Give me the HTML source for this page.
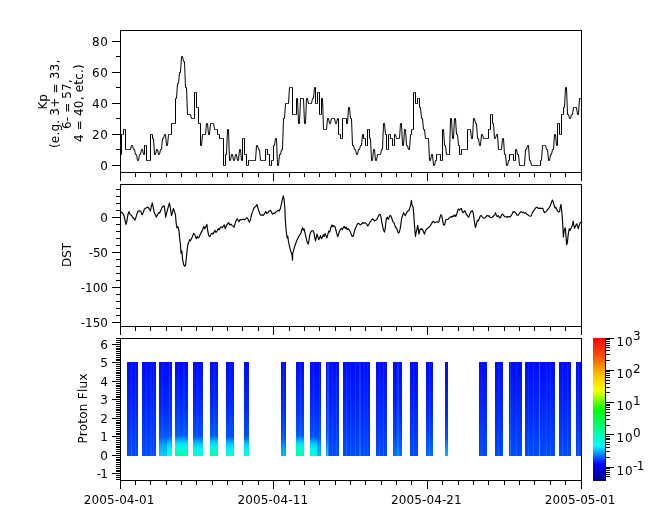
<!DOCTYPE html>
<html><head><meta charset="utf-8"><title>Kp DST Proton Flux</title>
<style>html,body{margin:0;padding:0;background:#fff}svg{display:block}text{font-family:"DejaVu Sans","Liberation Sans",sans-serif;font-size:12px;fill:#000}</style></head><body>
<svg width="665" height="523" viewBox="0 0 665 523">
<rect width="665" height="523" fill="#fff"/>
<defs>
<linearGradient id="gb" x1="0" y1="0" x2="0" y2="1"><stop offset="0.00" stop-color="#000aff"/><stop offset="0.40" stop-color="#0020ff"/><stop offset="0.75" stop-color="#0038ff"/><stop offset="1.00" stop-color="#004cff"/></linearGradient>
<linearGradient id="gb2" x1="0" y1="0" x2="0" y2="1"><stop offset="0.00" stop-color="#0008ff"/><stop offset="0.40" stop-color="#0020ff"/><stop offset="0.75" stop-color="#0040ff"/><stop offset="1.00" stop-color="#0070ff"/></linearGradient>
<linearGradient id="glb" x1="0" y1="0" x2="0" y2="1"><stop offset="0.00" stop-color="#0008ff"/><stop offset="0.50" stop-color="#0028ff"/><stop offset="0.80" stop-color="#0050ff"/><stop offset="0.90" stop-color="#0090ff"/><stop offset="1.00" stop-color="#00b8ff"/></linearGradient>
<linearGradient id="gl2" x1="0" y1="0" x2="0" y2="1"><stop offset="0.00" stop-color="#0008ff"/><stop offset="0.50" stop-color="#0028ff"/><stop offset="0.80" stop-color="#0058ff"/><stop offset="0.88" stop-color="#00a0ff"/><stop offset="1.00" stop-color="#00d0f8"/></linearGradient>
<linearGradient id="gcy" x1="0" y1="0" x2="0" y2="1"><stop offset="0.00" stop-color="#0008ff"/><stop offset="0.50" stop-color="#002cff"/><stop offset="0.79" stop-color="#0050ff"/><stop offset="0.83" stop-color="#0088ff"/><stop offset="0.87" stop-color="#00c8ff"/><stop offset="0.92" stop-color="#00f0fa"/><stop offset="1.00" stop-color="#00ffd7"/></linearGradient>
<linearGradient id="gcg" x1="0" y1="0" x2="0" y2="1"><stop offset="0.00" stop-color="#0008ff"/><stop offset="0.50" stop-color="#0030ff"/><stop offset="0.78" stop-color="#0058ff"/><stop offset="0.82" stop-color="#0098ff"/><stop offset="0.86" stop-color="#00d8fa"/><stop offset="0.91" stop-color="#00fae1"/><stop offset="1.00" stop-color="#00ffa5"/></linearGradient>
<linearGradient id="cb" x1="0" y1="1" x2="0" y2="0"><stop offset="0.0000" stop-color="rgb(0,0,137)"/><stop offset="0.1176" stop-color="rgb(0,0,255)"/><stop offset="0.2471" stop-color="rgb(0,255,255)"/><stop offset="0.4941" stop-color="rgb(0,255,0)"/><stop offset="0.6353" stop-color="rgb(255,255,0)"/><stop offset="0.7529" stop-color="rgb(255,185,0)"/><stop offset="0.8667" stop-color="rgb(255,84,0)"/><stop offset="1.0000" stop-color="rgb(255,0,0)"/></linearGradient>
<linearGradient id="st" x1="0" y1="0" x2="0" y2="1"><stop offset="0" stop-color="#30a0ff"/><stop offset="0.8" stop-color="#40c0ff"/><stop offset="1" stop-color="#60ffff"/></linearGradient>
</defs>
<g shape-rendering="crispEdges">
<rect x="127" y="362" width="11" height="94" fill="url(#gb)"/>
<rect x="142" y="362" width="14" height="94" fill="url(#gb)"/>
<rect x="159" y="362" width="8" height="94" fill="url(#gl2)"/>
<rect x="167" y="362" width="5" height="94" fill="url(#gcy)"/>
<rect x="175" y="362" width="13" height="94" fill="url(#gcg)"/>
<rect x="193" y="362" width="10" height="94" fill="url(#gcy)"/>
<rect x="210" y="362" width="8" height="94" fill="url(#gcg)"/>
<rect x="226" y="362" width="8" height="94" fill="url(#gcy)"/>
<rect x="244" y="362" width="5" height="94" fill="url(#gcy)"/>
<rect x="281" y="362" width="5" height="94" fill="url(#glb)"/>
<rect x="296" y="362" width="8" height="94" fill="url(#gcg)"/>
<rect x="310" y="362" width="7" height="94" fill="url(#gcy)"/>
<rect x="317" y="362" width="4" height="94" fill="url(#glb)"/>
<rect x="326" y="362" width="2" height="94" fill="url(#glb)"/>
<rect x="328" y="362" width="11" height="94" fill="url(#gb)"/>
<rect x="343" y="362" width="27" height="94" fill="url(#gb)"/>
<rect x="376" y="362" width="11" height="94" fill="url(#gb)"/>
<rect x="393" y="362" width="9" height="94" fill="url(#gb2)"/>
<rect x="410" y="362" width="8" height="94" fill="url(#gb)"/>
<rect x="426" y="362" width="7" height="94" fill="url(#gb2)"/>
<rect x="445" y="362" width="3" height="94" fill="url(#glb)"/>
<rect x="479" y="362" width="8" height="94" fill="url(#gb)"/>
<rect x="495" y="362" width="8" height="94" fill="url(#gb)"/>
<rect x="509" y="362" width="13" height="94" fill="url(#gb)"/>
<rect x="525" y="362" width="30" height="94" fill="url(#gb)"/>
<rect x="559" y="362" width="12" height="94" fill="url(#gb)"/>
<rect x="576" y="362" width="5" height="94" fill="url(#gb)"/>
<rect x="131" y="362" width="1" height="94" fill="url(#st)" opacity="0.18"/>
<rect x="135" y="362" width="1" height="94" fill="url(#st)" opacity="0.12"/>
<rect x="146" y="362" width="1" height="94" fill="url(#st)" opacity="0.15"/>
<rect x="150" y="362" width="2" height="94" fill="url(#st)" opacity="0.10"/>
<rect x="153" y="362" width="1" height="94" fill="url(#st)" opacity="0.18"/>
<rect x="162" y="362" width="1" height="94" fill="url(#st)" opacity="0.15"/>
<rect x="169" y="362" width="1" height="94" fill="url(#st)" opacity="0.25"/>
<rect x="178" y="362" width="1" height="94" fill="url(#st)" opacity="0.15"/>
<rect x="183" y="362" width="2" height="94" fill="url(#st)" opacity="0.12"/>
<rect x="197" y="362" width="1" height="94" fill="url(#st)" opacity="0.15"/>
<rect x="214" y="362" width="1" height="94" fill="url(#st)" opacity="0.18"/>
<rect x="230" y="362" width="1" height="94" fill="url(#st)" opacity="0.12"/>
<rect x="283" y="362" width="1" height="94" fill="url(#st)" opacity="0.20"/>
<rect x="300" y="362" width="1" height="94" fill="url(#st)" opacity="0.20"/>
<rect x="313" y="362" width="1" height="94" fill="url(#st)" opacity="0.15"/>
<rect x="319" y="362" width="1" height="94" fill="url(#st)" opacity="0.15"/>
<rect x="327" y="362" width="2" height="94" fill="url(#st)" opacity="0.30"/>
<rect x="332" y="362" width="1" height="94" fill="url(#st)" opacity="0.12"/>
<rect x="336" y="362" width="1" height="94" fill="url(#st)" opacity="0.15"/>
<rect x="346" y="362" width="1" height="94" fill="url(#st)" opacity="0.20"/>
<rect x="350" y="362" width="1" height="94" fill="url(#st)" opacity="0.12"/>
<rect x="355" y="362" width="1" height="94" fill="url(#st)" opacity="0.20"/>
<rect x="359" y="362" width="2" height="94" fill="url(#st)" opacity="0.25"/>
<rect x="364" y="362" width="1" height="94" fill="url(#st)" opacity="0.15"/>
<rect x="367" y="362" width="1" height="94" fill="url(#st)" opacity="0.12"/>
<rect x="379" y="362" width="1" height="94" fill="url(#st)" opacity="0.15"/>
<rect x="383" y="362" width="1" height="94" fill="url(#st)" opacity="0.20"/>
<rect x="397" y="362" width="2" height="94" fill="url(#st)" opacity="0.25"/>
<rect x="413" y="362" width="1" height="94" fill="url(#st)" opacity="0.12"/>
<rect x="429" y="362" width="1" height="94" fill="url(#st)" opacity="0.15"/>
<rect x="481" y="362" width="1" height="94" fill="url(#st)" opacity="0.12"/>
<rect x="498" y="362" width="1" height="94" fill="url(#st)" opacity="0.12"/>
<rect x="510" y="362" width="1" height="94" fill="url(#st)" opacity="0.30"/>
<rect x="516" y="362" width="1" height="94" fill="url(#st)" opacity="0.15"/>
<rect x="528" y="362" width="1" height="94" fill="url(#st)" opacity="0.12"/>
<rect x="533" y="362" width="1" height="94" fill="url(#st)" opacity="0.15"/>
<rect x="539" y="362" width="1" height="94" fill="url(#st)" opacity="0.60"/>
<rect x="546" y="362" width="1" height="94" fill="url(#st)" opacity="0.15"/>
<rect x="550" y="362" width="1" height="94" fill="url(#st)" opacity="0.12"/>
<rect x="562" y="362" width="1" height="94" fill="url(#st)" opacity="0.15"/>
<rect x="567" y="362" width="1" height="94" fill="url(#st)" opacity="0.15"/>
<rect x="578" y="362" width="1" height="94" fill="url(#st)" opacity="0.12"/>
</g>
<rect x="593" y="338" width="13" height="143" fill="url(#cb)" shape-rendering="crispEdges"/>
<g fill="#000" shape-rendering="crispEdges">
<rect x="120" y="30" width="462" height="1"/>
<rect x="120" y="172" width="462" height="1"/>
<rect x="120" y="30" width="1" height="143"/>
<rect x="581" y="30" width="1" height="143"/>
<rect x="120" y="172" width="1" height="9"/>
<rect x="135" y="172" width="1" height="5"/>
<rect x="150" y="172" width="1" height="5"/>
<rect x="166" y="172" width="1" height="5"/>
<rect x="181" y="172" width="1" height="5"/>
<rect x="196" y="172" width="1" height="5"/>
<rect x="212" y="172" width="1" height="5"/>
<rect x="227" y="172" width="1" height="5"/>
<rect x="242" y="172" width="1" height="5"/>
<rect x="258" y="172" width="1" height="5"/>
<rect x="273" y="172" width="1" height="9"/>
<rect x="289" y="172" width="1" height="5"/>
<rect x="304" y="172" width="1" height="5"/>
<rect x="319" y="172" width="1" height="5"/>
<rect x="335" y="172" width="1" height="5"/>
<rect x="350" y="172" width="1" height="5"/>
<rect x="365" y="172" width="1" height="5"/>
<rect x="381" y="172" width="1" height="5"/>
<rect x="396" y="172" width="1" height="5"/>
<rect x="411" y="172" width="1" height="5"/>
<rect x="427" y="172" width="1" height="9"/>
<rect x="442" y="172" width="1" height="5"/>
<rect x="458" y="172" width="1" height="5"/>
<rect x="473" y="172" width="1" height="5"/>
<rect x="488" y="172" width="1" height="5"/>
<rect x="504" y="172" width="1" height="5"/>
<rect x="519" y="172" width="1" height="5"/>
<rect x="534" y="172" width="1" height="5"/>
<rect x="550" y="172" width="1" height="5"/>
<rect x="565" y="172" width="1" height="5"/>
<rect x="581" y="172" width="1" height="9"/>
<rect x="120" y="184" width="462" height="1"/>
<rect x="120" y="326" width="462" height="1"/>
<rect x="120" y="184" width="1" height="143"/>
<rect x="581" y="184" width="1" height="143"/>
<rect x="120" y="326" width="1" height="9"/>
<rect x="135" y="326" width="1" height="5"/>
<rect x="150" y="326" width="1" height="5"/>
<rect x="166" y="326" width="1" height="5"/>
<rect x="181" y="326" width="1" height="5"/>
<rect x="196" y="326" width="1" height="5"/>
<rect x="212" y="326" width="1" height="5"/>
<rect x="227" y="326" width="1" height="5"/>
<rect x="242" y="326" width="1" height="5"/>
<rect x="258" y="326" width="1" height="5"/>
<rect x="273" y="326" width="1" height="9"/>
<rect x="289" y="326" width="1" height="5"/>
<rect x="304" y="326" width="1" height="5"/>
<rect x="319" y="326" width="1" height="5"/>
<rect x="335" y="326" width="1" height="5"/>
<rect x="350" y="326" width="1" height="5"/>
<rect x="365" y="326" width="1" height="5"/>
<rect x="381" y="326" width="1" height="5"/>
<rect x="396" y="326" width="1" height="5"/>
<rect x="411" y="326" width="1" height="5"/>
<rect x="427" y="326" width="1" height="9"/>
<rect x="442" y="326" width="1" height="5"/>
<rect x="458" y="326" width="1" height="5"/>
<rect x="473" y="326" width="1" height="5"/>
<rect x="488" y="326" width="1" height="5"/>
<rect x="504" y="326" width="1" height="5"/>
<rect x="519" y="326" width="1" height="5"/>
<rect x="534" y="326" width="1" height="5"/>
<rect x="550" y="326" width="1" height="5"/>
<rect x="565" y="326" width="1" height="5"/>
<rect x="581" y="326" width="1" height="9"/>
<rect x="120" y="338" width="462" height="1"/>
<rect x="120" y="480" width="462" height="1"/>
<rect x="120" y="338" width="1" height="143"/>
<rect x="581" y="338" width="1" height="143"/>
<rect x="120" y="480" width="1" height="9"/>
<rect x="135" y="480" width="1" height="5"/>
<rect x="150" y="480" width="1" height="5"/>
<rect x="166" y="480" width="1" height="5"/>
<rect x="181" y="480" width="1" height="5"/>
<rect x="196" y="480" width="1" height="5"/>
<rect x="212" y="480" width="1" height="5"/>
<rect x="227" y="480" width="1" height="5"/>
<rect x="242" y="480" width="1" height="5"/>
<rect x="258" y="480" width="1" height="5"/>
<rect x="273" y="480" width="1" height="9"/>
<rect x="289" y="480" width="1" height="5"/>
<rect x="304" y="480" width="1" height="5"/>
<rect x="319" y="480" width="1" height="5"/>
<rect x="335" y="480" width="1" height="5"/>
<rect x="350" y="480" width="1" height="5"/>
<rect x="365" y="480" width="1" height="5"/>
<rect x="381" y="480" width="1" height="5"/>
<rect x="396" y="480" width="1" height="5"/>
<rect x="411" y="480" width="1" height="5"/>
<rect x="427" y="480" width="1" height="9"/>
<rect x="442" y="480" width="1" height="5"/>
<rect x="458" y="480" width="1" height="5"/>
<rect x="473" y="480" width="1" height="5"/>
<rect x="488" y="480" width="1" height="5"/>
<rect x="504" y="480" width="1" height="5"/>
<rect x="519" y="480" width="1" height="5"/>
<rect x="534" y="480" width="1" height="5"/>
<rect x="550" y="480" width="1" height="5"/>
<rect x="565" y="480" width="1" height="5"/>
<rect x="581" y="480" width="1" height="9"/>
<rect x="112" y="165" width="8" height="1"/>
<rect x="116" y="149" width="4" height="1"/>
<rect x="112" y="134" width="8" height="1"/>
<rect x="116" y="118" width="4" height="1"/>
<rect x="112" y="103" width="8" height="1"/>
<rect x="116" y="87" width="4" height="1"/>
<rect x="112" y="72" width="8" height="1"/>
<rect x="116" y="56" width="4" height="1"/>
<rect x="112" y="41" width="8" height="1"/>
<rect x="112" y="322" width="8" height="1"/>
<rect x="116" y="315" width="4" height="1"/>
<rect x="116" y="308" width="4" height="1"/>
<rect x="116" y="301" width="4" height="1"/>
<rect x="116" y="294" width="4" height="1"/>
<rect x="112" y="287" width="8" height="1"/>
<rect x="116" y="280" width="4" height="1"/>
<rect x="116" y="273" width="4" height="1"/>
<rect x="116" y="266" width="4" height="1"/>
<rect x="116" y="259" width="4" height="1"/>
<rect x="112" y="252" width="8" height="1"/>
<rect x="116" y="245" width="4" height="1"/>
<rect x="116" y="238" width="4" height="1"/>
<rect x="116" y="231" width="4" height="1"/>
<rect x="116" y="224" width="4" height="1"/>
<rect x="112" y="217" width="8" height="1"/>
<rect x="116" y="210" width="4" height="1"/>
<rect x="116" y="203" width="4" height="1"/>
<rect x="116" y="196" width="4" height="1"/>
<rect x="116" y="189" width="4" height="1"/>
<rect x="116" y="479" width="4" height="1"/>
<rect x="116" y="477" width="4" height="1"/>
<rect x="116" y="475" width="4" height="1"/>
<rect x="112" y="473" width="8" height="1"/>
<rect x="116" y="471" width="4" height="1"/>
<rect x="116" y="470" width="4" height="1"/>
<rect x="116" y="468" width="4" height="1"/>
<rect x="116" y="466" width="4" height="1"/>
<rect x="116" y="464" width="4" height="1"/>
<rect x="116" y="462" width="4" height="1"/>
<rect x="116" y="460" width="4" height="1"/>
<rect x="116" y="459" width="4" height="1"/>
<rect x="116" y="457" width="4" height="1"/>
<rect x="112" y="455" width="8" height="1"/>
<rect x="116" y="453" width="4" height="1"/>
<rect x="116" y="451" width="4" height="1"/>
<rect x="116" y="449" width="4" height="1"/>
<rect x="116" y="447" width="4" height="1"/>
<rect x="116" y="446" width="4" height="1"/>
<rect x="116" y="444" width="4" height="1"/>
<rect x="116" y="442" width="4" height="1"/>
<rect x="116" y="440" width="4" height="1"/>
<rect x="116" y="438" width="4" height="1"/>
<rect x="112" y="436" width="8" height="1"/>
<rect x="116" y="434" width="4" height="1"/>
<rect x="116" y="433" width="4" height="1"/>
<rect x="116" y="431" width="4" height="1"/>
<rect x="116" y="429" width="4" height="1"/>
<rect x="116" y="427" width="4" height="1"/>
<rect x="116" y="425" width="4" height="1"/>
<rect x="116" y="423" width="4" height="1"/>
<rect x="116" y="422" width="4" height="1"/>
<rect x="116" y="420" width="4" height="1"/>
<rect x="112" y="418" width="8" height="1"/>
<rect x="116" y="416" width="4" height="1"/>
<rect x="116" y="414" width="4" height="1"/>
<rect x="116" y="412" width="4" height="1"/>
<rect x="116" y="410" width="4" height="1"/>
<rect x="116" y="409" width="4" height="1"/>
<rect x="116" y="407" width="4" height="1"/>
<rect x="116" y="405" width="4" height="1"/>
<rect x="116" y="403" width="4" height="1"/>
<rect x="116" y="401" width="4" height="1"/>
<rect x="112" y="399" width="8" height="1"/>
<rect x="116" y="397" width="4" height="1"/>
<rect x="116" y="396" width="4" height="1"/>
<rect x="116" y="394" width="4" height="1"/>
<rect x="116" y="392" width="4" height="1"/>
<rect x="116" y="390" width="4" height="1"/>
<rect x="116" y="388" width="4" height="1"/>
<rect x="116" y="386" width="4" height="1"/>
<rect x="116" y="385" width="4" height="1"/>
<rect x="116" y="383" width="4" height="1"/>
<rect x="112" y="381" width="8" height="1"/>
<rect x="116" y="379" width="4" height="1"/>
<rect x="116" y="377" width="4" height="1"/>
<rect x="116" y="375" width="4" height="1"/>
<rect x="116" y="373" width="4" height="1"/>
<rect x="116" y="372" width="4" height="1"/>
<rect x="116" y="370" width="4" height="1"/>
<rect x="116" y="368" width="4" height="1"/>
<rect x="116" y="366" width="4" height="1"/>
<rect x="116" y="364" width="4" height="1"/>
<rect x="112" y="362" width="8" height="1"/>
<rect x="116" y="360" width="4" height="1"/>
<rect x="116" y="359" width="4" height="1"/>
<rect x="116" y="357" width="4" height="1"/>
<rect x="116" y="355" width="4" height="1"/>
<rect x="116" y="353" width="4" height="1"/>
<rect x="116" y="351" width="4" height="1"/>
<rect x="116" y="349" width="4" height="1"/>
<rect x="116" y="348" width="4" height="1"/>
<rect x="116" y="346" width="4" height="1"/>
<rect x="112" y="344" width="8" height="1"/>
<rect x="116" y="342" width="4" height="1"/>
<rect x="116" y="340" width="4" height="1"/>
<rect x="116" y="338" width="4" height="1"/>
<rect x="605" y="338" width="1" height="143"/>
<rect x="606" y="476" width="4" height="1"/>
<rect x="606" y="474" width="4" height="1"/>
<rect x="606" y="472" width="4" height="1"/>
<rect x="606" y="470" width="4" height="1"/>
<rect x="606" y="468" width="4" height="1"/>
<rect x="606" y="467" width="8" height="1"/>
<rect x="606" y="457" width="4" height="1"/>
<rect x="606" y="451" width="4" height="1"/>
<rect x="606" y="447" width="4" height="1"/>
<rect x="606" y="444" width="4" height="1"/>
<rect x="606" y="442" width="4" height="1"/>
<rect x="606" y="439" width="4" height="1"/>
<rect x="606" y="438" width="4" height="1"/>
<rect x="606" y="436" width="4" height="1"/>
<rect x="606" y="434" width="8" height="1"/>
<rect x="606" y="425" width="4" height="1"/>
<rect x="606" y="419" width="4" height="1"/>
<rect x="606" y="415" width="4" height="1"/>
<rect x="606" y="412" width="4" height="1"/>
<rect x="606" y="409" width="4" height="1"/>
<rect x="606" y="407" width="4" height="1"/>
<rect x="606" y="405" width="4" height="1"/>
<rect x="606" y="404" width="4" height="1"/>
<rect x="606" y="402" width="8" height="1"/>
<rect x="606" y="392" width="4" height="1"/>
<rect x="606" y="387" width="4" height="1"/>
<rect x="606" y="383" width="4" height="1"/>
<rect x="606" y="380" width="4" height="1"/>
<rect x="606" y="377" width="4" height="1"/>
<rect x="606" y="375" width="4" height="1"/>
<rect x="606" y="373" width="4" height="1"/>
<rect x="606" y="371" width="4" height="1"/>
<rect x="606" y="370" width="8" height="1"/>
<rect x="606" y="360" width="4" height="1"/>
<rect x="606" y="354" width="4" height="1"/>
<rect x="606" y="350" width="4" height="1"/>
<rect x="606" y="347" width="4" height="1"/>
<rect x="606" y="345" width="4" height="1"/>
<rect x="606" y="343" width="4" height="1"/>
<rect x="606" y="341" width="4" height="1"/>
<rect x="606" y="339" width="4" height="1"/>
<rect x="606" y="338" width="8" height="1"/>
</g>
<path d="M120.5 154.5 L121.5 154.5 L121.5 134.5 L122.5 134.5 L123.5 134.5 L123.5 129.5 L124.5 129.5 L125.5 129.5 L125.5 149.5 L126.5 149.5 L127.5 149.5 L128.5 149.5 L129.5 149.5 L130.5 149.5 L131.5 145.5 L132.5 145.5 L133.5 149.5 L134.5 149.5 L135.5 154.5 L136.5 154.5 L137.5 160.5 L138.5 160.5 L139.5 154.5 L140.5 154.5 L141.5 149.5 L142.5 149.5 L143.5 154.5 L144.5 154.5 L144.5 145.5 L145.5 145.5 L146.5 145.5 L146.5 160.5 L147.5 160.5 L148.5 160.5 L149.5 160.5 L150.5 160.5 L150.5 134.5 L151.5 134.5 L152.5 134.5 L152.5 138.5 L153.5 138.5 L154.5 154.5 L155.5 154.5 L156.5 149.5 L157.5 149.5 L158.5 154.5 L159.5 154.5 L160.5 149.5 L161.5 149.5 L162.5 138.5 L163.5 138.5 L164.5 134.5 L165.5 134.5 L166.5 145.5 L167.5 145.5 L168.5 134.5 L169.5 134.5 L170.5 134.5 L171.5 134.5 L171.5 123.5 L172.5 123.5 L173.5 123.5 L174.5 123.5 L175.5 123.5 L175.5 98.5 L176.5 98.5 L177.5 83.5 L178.5 83.5 L179.5 72.5 L180.5 72.5 L181.5 56.5 L182.5 56.5 L183.5 61.5 L184.5 61.5 L185.5 87.5 L186.5 87.5 L187.5 114.5 L188.5 114.5 L189.5 114.5 L190.5 114.5 L191.5 118.5 L192.5 118.5 L193.5 118.5 L194.5 118.5 L194.5 92.5 L195.5 92.5 L196.5 92.5 L196.5 107.5 L197.5 107.5 L198.5 107.5 L198.5 123.5 L199.5 123.5 L200.5 123.5 L200.5 145.5 L201.5 145.5 L202.5 134.5 L203.5 134.5 L204.5 134.5 L205.5 134.5 L206.5 123.5 L207.5 123.5 L208.5 134.5 L209.5 134.5 L210.5 123.5 L211.5 123.5 L212.5 123.5 L213.5 123.5 L214.5 129.5 L215.5 129.5 L216.5 129.5 L217.5 129.5 L217.5 134.5 L218.5 134.5 L219.5 134.5 L219.5 138.5 L220.5 138.5 L221.5 138.5 L222.5 138.5 L223.5 138.5 L223.5 165.5 L224.5 165.5 L225.5 165.5 L225.5 154.5 L226.5 154.5 L227.5 129.5 L228.5 129.5 L229.5 160.5 L230.5 160.5 L231.5 154.5 L232.5 154.5 L233.5 160.5 L234.5 160.5 L235.5 154.5 L236.5 154.5 L237.5 160.5 L238.5 160.5 L239.5 149.5 L240.5 149.5 L241.5 160.5 L242.5 160.5 L242.5 138.5 L243.5 138.5 L244.5 138.5 L244.5 154.5 L245.5 154.5 L246.5 154.5 L246.5 165.5 L247.5 165.5 L248.5 165.5 L248.5 160.5 L249.5 160.5 L250.5 160.5 L251.5 160.5 L252.5 160.5 L253.5 160.5 L254.5 160.5 L255.5 160.5 L256.5 145.5 L257.5 145.5 L258.5 149.5 L259.5 149.5 L260.5 160.5 L261.5 160.5 L262.5 160.5 L263.5 160.5 L264.5 160.5 L265.5 160.5 L265.5 149.5 L266.5 149.5 L267.5 149.5 L267.5 154.5 L268.5 154.5 L269.5 154.5 L269.5 165.5 L270.5 165.5 L271.5 165.5 L271.5 160.5 L272.5 160.5 L273.5 160.5 L273.5 145.5 L274.5 145.5 L275.5 138.5 L276.5 138.5 L277.5 165.5 L278.5 165.5 L279.5 154.5 L280.5 154.5 L281.5 149.5 L282.5 149.5 L283.5 118.5 L284.5 118.5 L285.5 103.5 L286.5 103.5 L287.5 103.5 L288.5 103.5 L289.5 87.5 L290.5 87.5 L291.5 87.5 L292.5 87.5 L292.5 114.5 L293.5 114.5 L294.5 114.5 L295.5 114.5 L296.5 114.5 L296.5 98.5 L297.5 98.5 L298.5 123.5 L299.5 123.5 L300.5 98.5 L301.5 98.5 L302.5 98.5 L303.5 98.5 L304.5 123.5 L305.5 123.5 L306.5 98.5 L307.5 98.5 L308.5 103.5 L309.5 103.5 L310.5 103.5 L311.5 103.5 L312.5 98.5 L313.5 98.5 L314.5 87.5 L315.5 87.5 L315.5 103.5 L316.5 103.5 L317.5 103.5 L317.5 92.5 L318.5 92.5 L319.5 92.5 L319.5 114.5 L320.5 114.5 L321.5 114.5 L321.5 98.5 L322.5 98.5 L323.5 129.5 L324.5 129.5 L325.5 129.5 L326.5 129.5 L327.5 118.5 L328.5 118.5 L329.5 123.5 L330.5 123.5 L331.5 118.5 L332.5 118.5 L333.5 118.5 L334.5 118.5 L335.5 123.5 L336.5 123.5 L337.5 118.5 L338.5 118.5 L338.5 134.5 L339.5 134.5 L340.5 134.5 L340.5 138.5 L341.5 138.5 L342.5 138.5 L342.5 118.5 L343.5 118.5 L344.5 118.5 L345.5 118.5 L346.5 118.5 L346.5 123.5 L347.5 123.5 L348.5 107.5 L349.5 107.5 L350.5 118.5 L351.5 118.5 L352.5 145.5 L353.5 145.5 L354.5 149.5 L355.5 149.5 L356.5 154.5 L357.5 154.5 L358.5 149.5 L359.5 149.5 L360.5 145.5 L361.5 145.5 L362.5 134.5 L363.5 134.5 L363.5 138.5 L364.5 138.5 L365.5 138.5 L365.5 145.5 L366.5 145.5 L367.5 145.5 L367.5 129.5 L368.5 129.5 L369.5 129.5 L369.5 138.5 L370.5 138.5 L371.5 160.5 L372.5 160.5 L373.5 149.5 L374.5 149.5 L375.5 160.5 L376.5 160.5 L377.5 154.5 L378.5 154.5 L379.5 154.5 L380.5 154.5 L381.5 149.5 L382.5 149.5 L383.5 123.5 L384.5 123.5 L385.5 134.5 L386.5 134.5 L386.5 149.5 L387.5 149.5 L388.5 149.5 L388.5 134.5 L389.5 134.5 L390.5 134.5 L390.5 138.5 L391.5 138.5 L392.5 138.5 L392.5 145.5 L393.5 145.5 L394.5 145.5 L394.5 134.5 L395.5 134.5 L396.5 138.5 L397.5 138.5 L398.5 138.5 L399.5 138.5 L400.5 123.5 L401.5 123.5 L402.5 145.5 L403.5 145.5 L404.5 129.5 L405.5 129.5 L406.5 145.5 L407.5 145.5 L408.5 149.5 L409.5 149.5 L410.5 134.5 L411.5 134.5 L411.5 129.5 L412.5 129.5 L413.5 129.5 L413.5 92.5 L414.5 92.5 L415.5 92.5 L415.5 103.5 L416.5 103.5 L417.5 103.5 L417.5 98.5 L418.5 98.5 L419.5 98.5 L419.5 107.5 L420.5 107.5 L421.5 118.5 L422.5 118.5 L423.5 129.5 L424.5 129.5 L425.5 138.5 L426.5 138.5 L427.5 138.5 L428.5 138.5 L429.5 160.5 L430.5 160.5 L431.5 154.5 L432.5 154.5 L433.5 165.5 L434.5 165.5 L435.5 160.5 L436.5 160.5 L436.5 154.5 L437.5 154.5 L438.5 154.5 L439.5 154.5 L440.5 154.5 L440.5 160.5 L441.5 160.5 L442.5 160.5 L442.5 129.5 L443.5 129.5 L444.5 145.5 L445.5 145.5 L446.5 154.5 L447.5 154.5 L448.5 154.5 L449.5 154.5 L450.5 118.5 L451.5 118.5 L452.5 138.5 L453.5 138.5 L454.5 118.5 L455.5 118.5 L456.5 134.5 L457.5 134.5 L458.5 145.5 L459.5 145.5 L459.5 154.5 L460.5 154.5 L461.5 154.5 L461.5 149.5 L462.5 149.5 L463.5 149.5 L464.5 149.5 L465.5 149.5 L466.5 149.5 L467.5 149.5 L467.5 129.5 L468.5 129.5 L469.5 129.5 L470.5 129.5 L471.5 138.5 L472.5 138.5 L473.5 118.5 L474.5 118.5 L475.5 123.5 L476.5 123.5 L477.5 138.5 L478.5 138.5 L479.5 145.5 L480.5 145.5 L481.5 134.5 L482.5 134.5 L483.5 138.5 L484.5 138.5 L485.5 138.5 L486.5 138.5 L487.5 138.5 L488.5 138.5 L488.5 129.5 L489.5 129.5 L490.5 129.5 L490.5 114.5 L491.5 114.5 L492.5 114.5 L492.5 123.5 L493.5 123.5 L494.5 138.5 L495.5 138.5 L496.5 134.5 L497.5 134.5 L498.5 149.5 L499.5 149.5 L500.5 149.5 L501.5 149.5 L502.5 138.5 L503.5 138.5 L504.5 154.5 L505.5 154.5 L506.5 165.5 L507.5 165.5 L508.5 160.5 L509.5 160.5 L509.5 154.5 L510.5 154.5 L511.5 154.5 L512.5 154.5 L513.5 154.5 L513.5 160.5 L514.5 160.5 L515.5 160.5 L515.5 149.5 L516.5 149.5 L517.5 154.5 L518.5 154.5 L519.5 165.5 L520.5 165.5 L521.5 165.5 L522.5 165.5 L523.5 165.5 L524.5 165.5 L525.5 149.5 L526.5 149.5 L527.5 145.5 L528.5 145.5 L529.5 160.5 L530.5 160.5 L531.5 165.5 L532.5 165.5 L533.5 165.5 L534.5 165.5 L535.5 165.5 L536.5 165.5 L537.5 165.5 L538.5 165.5 L539.5 165.5 L540.5 165.5 L540.5 160.5 L541.5 160.5 L542.5 145.5 L543.5 145.5 L544.5 145.5 L545.5 145.5 L546.5 149.5 L547.5 149.5 L548.5 160.5 L549.5 160.5 L550.5 154.5 L551.5 154.5 L552.5 149.5 L553.5 149.5 L554.5 134.5 L555.5 134.5 L556.5 145.5 L557.5 145.5 L557.5 123.5 L558.5 123.5 L559.5 123.5 L559.5 134.5 L560.5 134.5 L561.5 134.5 L561.5 114.5 L562.5 114.5 L563.5 114.5 L563.5 107.5 L564.5 107.5 L565.5 87.5 L566.5 87.5 L567.5 114.5 L568.5 114.5 L569.5 118.5 L570.5 118.5 L571.5 114.5 L572.5 114.5 L573.5 107.5 L574.5 107.5 L575.5 107.5 L576.5 107.5 L577.5 114.5 L578.5 114.5 L579.5 98.5 L580.5 98.5 L581.5 98.5" fill="none" stroke="#000" stroke-width="1" stroke-linejoin="round"/>
<path d="M120.8 211.6 L122.3 212.7 L123.8 214.9 L124.9 219.5 L126.0 224.4 L126.9 221.1 L127.9 214.9 L129.0 211.6 L130.2 214.6 L131.5 215.3 L132.5 217.2 L133.8 218.3 L134.8 220.3 L136.0 217.2 L137.1 213.4 L138.2 211.1 L139.4 210.7 L140.9 211.6 L142.0 214.9 L143.2 212.7 L144.3 209.1 L145.5 208.5 L146.8 207.3 L148.1 207.3 L149.4 209.1 L150.4 211.1 L151.3 206.5 L152.4 203.0 L153.5 208.8 L154.4 213.4 L155.5 214.6 L156.2 217.2 L157.5 214.9 L158.5 212.7 L159.6 213.1 L160.8 210.4 L162.1 207.3 L163.1 206.5 L164.2 205.8 L165.1 211.9 L165.7 217.2 L166.6 213.4 L167.7 208.8 L168.8 205.0 L169.5 203.0 L170.5 208.8 L171.5 215.7 L172.6 211.9 L173.4 208.5 L174.6 211.9 L175.5 214.9 L176.1 222.6 L176.9 227.9 L178.0 226.9 L178.9 230.2 L179.6 237.9 L180.4 244.0 L181.0 253.2 L181.8 250.9 L182.6 259.3 L183.5 263.9 L184.5 266.2 L185.5 265.4 L186.2 259.3 L187.1 250.1 L187.8 244.8 L188.7 242.5 L189.6 239.7 L190.5 240.9 L191.4 238.7 L192.5 236.4 L193.6 233.3 L194.5 234.1 L195.4 236.4 L196.3 238.7 L197.2 236.4 L198.0 237.9 L199.2 237.1 L200.3 234.1 L201.4 232.1 L202.6 229.9 L203.8 226.4 L204.7 228.7 L205.6 227.5 L206.9 224.4 L207.6 230.2 L208.7 235.6 L209.9 236.4 L211.0 234.5 L212.1 233.0 L213.0 234.1 L214.1 232.1 L215.1 230.2 L216.0 232.5 L217.1 231.0 L218.2 228.7 L219.1 229.9 L220.2 227.9 L221.3 226.9 L222.2 227.9 L223.2 226.4 L224.3 224.9 L225.2 228.7 L226.3 226.0 L227.4 224.1 L228.6 222.6 L229.8 224.9 L230.9 224.1 L232.0 225.3 L233.2 226.4 L234.1 227.2 L235.2 223.4 L236.2 220.3 L237.2 218.8 L238.1 220.3 L239.0 221.8 L240.1 219.5 L241.1 220.0 L242.4 219.5 L243.6 219.2 L244.7 219.8 L245.7 218.8 L246.9 217.7 L248.2 219.5 L249.4 222.3 L250.5 219.5 L251.5 214.9 L252.6 211.9 L253.5 209.1 L254.6 207.3 L255.8 206.5 L257.0 204.5 L258.0 208.1 L258.9 211.1 L260.0 214.2 L261.0 215.3 L262.2 214.9 L263.5 215.3 L264.7 213.4 L265.8 211.6 L266.8 213.4 L268.1 212.7 L269.1 210.7 L270.4 210.4 L271.4 211.9 L272.6 214.2 L273.7 213.1 L274.9 213.4 L276.0 211.9 L277.1 211.1 L278.0 210.0 L279.2 211.1 L280.3 208.8 L281.4 204.2 L282.3 199.6 L283.4 195.8 L284.1 199.6 L284.9 208.8 L285.3 219.5 L286.0 228.7 L286.6 234.1 L287.2 237.9 L287.8 236.4 L288.4 240.9 L289.2 244.8 L289.9 247.8 L290.7 250.9 L291.5 253.2 L292.1 255.5 L292.5 260.1 L292.8 253.2 L293.6 250.1 L294.5 247.1 L295.6 244.0 L296.7 240.9 L297.6 238.7 L298.7 236.4 L299.7 234.8 L300.6 234.1 L301.4 231.0 L302.5 227.9 L303.2 230.2 L304.0 228.7 L304.9 232.5 L305.8 236.4 L306.8 240.9 L307.7 243.2 L308.3 244.0 L309.1 239.4 L309.8 234.8 L310.9 231.8 L312.0 230.5 L313.2 231.0 L314.1 233.3 L314.7 237.1 L315.5 240.9 L316.2 237.9 L317.0 234.1 L317.8 236.4 L318.7 239.7 L319.6 237.9 L320.5 235.6 L321.4 238.7 L322.4 237.1 L323.3 234.8 L324.2 236.4 L325.1 233.6 L326.0 235.6 L326.9 237.9 L327.9 234.1 L328.8 231.0 L329.7 232.1 L330.5 228.7 L331.2 226.4 L332.0 224.9 L332.8 226.9 L333.8 225.7 L334.9 226.4 L335.8 229.5 L336.7 233.3 L337.7 236.7 L338.6 234.1 L339.5 231.0 L340.4 229.5 L341.5 228.4 L342.4 229.5 L343.3 227.5 L344.2 226.4 L345.3 228.4 L346.2 227.2 L347.1 229.5 L348.1 228.7 L349.1 229.9 L350.2 231.5 L351.1 234.1 L352.2 236.4 L353.3 236.1 L354.2 232.1 L355.2 228.7 L356.3 226.4 L357.2 224.4 L358.0 223.4 L359.2 223.8 L360.3 224.9 L361.4 224.1 L362.6 222.6 L363.8 223.4 L364.9 222.6 L366.0 223.4 L366.9 224.4 L367.8 226.0 L368.7 224.9 L369.6 222.6 L370.5 221.4 L371.5 220.3 L372.5 218.8 L373.6 219.8 L374.5 220.8 L375.6 220.3 L376.7 219.5 L377.6 218.0 L378.7 215.3 L379.4 214.2 L380.5 214.9 L381.3 218.8 L382.0 223.4 L382.8 226.9 L383.5 230.2 L384.5 232.1 L385.2 228.7 L385.8 222.6 L386.5 218.3 L387.4 217.2 L388.3 219.5 L389.2 217.2 L390.1 215.3 L391.0 216.2 L392.0 218.8 L392.9 221.8 L393.8 222.3 L394.7 224.9 L395.6 227.5 L396.5 227.9 L397.5 231.0 L398.4 233.0 L399.3 232.1 L400.2 228.7 L401.0 223.4 L401.7 218.0 L402.7 215.3 L403.6 212.7 L404.5 214.2 L405.4 215.7 L406.3 213.4 L407.3 211.6 L408.2 211.1 L409.2 210.0 L410.0 207.3 L410.8 204.2 L411.4 200.4 L412.0 205.0 L413.1 207.3 L413.7 213.4 L414.3 222.6 L414.9 231.0 L415.5 236.4 L416.1 232.5 L416.9 229.5 L417.7 225.3 L418.3 228.7 L418.9 234.1 L419.5 231.8 L420.1 229.0 L421.0 229.5 L421.9 228.7 L422.9 230.2 L423.8 232.5 L424.4 234.1 L425.3 231.5 L426.2 229.5 L427.1 228.7 L428.1 227.9 L429.0 226.9 L429.9 226.4 L430.8 224.9 L431.7 223.4 L432.6 221.8 L433.6 221.4 L434.5 222.6 L435.7 222.3 L436.8 221.8 L438.0 222.3 L438.9 221.8 L439.8 218.0 L440.8 214.6 L441.7 215.7 L442.6 220.3 L443.5 224.9 L444.7 224.9 L445.6 220.3 L446.9 219.5 L447.9 219.2 L449.0 218.3 L450.2 217.2 L451.2 216.5 L452.1 217.2 L453.0 215.7 L453.9 216.5 L454.8 214.9 L455.7 216.5 L456.7 214.2 L457.6 211.1 L458.5 209.1 L459.4 210.0 L460.3 209.1 L461.3 208.5 L462.2 211.1 L463.1 212.7 L464.0 211.6 L464.9 210.7 L465.8 212.7 L466.8 214.9 L467.7 216.2 L468.6 217.2 L469.5 214.9 L470.4 212.7 L471.3 211.1 L472.4 210.7 L473.3 213.4 L474.1 219.5 L474.9 224.9 L475.6 227.5 L476.5 223.4 L477.5 220.3 L478.4 220.8 L479.3 218.3 L480.2 216.2 L481.1 215.3 L482.1 216.8 L483.0 217.7 L483.9 218.3 L485.1 218.0 L486.2 216.5 L487.3 215.3 L488.2 216.2 L489.1 215.7 L490.0 217.2 L491.2 217.7 L492.3 217.2 L493.4 216.2 L494.6 214.9 L495.5 212.7 L496.4 215.7 L497.3 216.5 L498.3 215.7 L499.2 217.2 L500.1 218.0 L501.0 216.2 L501.9 214.6 L502.9 214.2 L503.8 215.7 L505.0 216.8 L506.1 217.2 L507.1 216.5 L508.1 217.2 L509.1 216.5 L510.2 216.8 L511.1 215.7 L512.0 214.2 L513.0 211.9 L513.9 211.6 L514.8 212.2 L515.7 212.7 L516.6 214.9 L518.0 215.3 L518.9 214.2 L519.9 212.7 L521.0 211.6 L522.2 212.7 L523.5 212.2 L524.5 213.1 L525.6 212.7 L526.8 214.2 L528.0 214.9 L529.1 215.7 L530.2 216.2 L531.4 215.7 L532.3 212.7 L533.4 211.1 L534.5 209.6 L535.5 208.1 L536.8 207.3 L538.0 208.1 L539.1 208.5 L540.3 208.1 L541.5 208.5 L542.7 208.2 L543.7 211.1 L544.6 212.7 L545.6 211.9 L546.7 211.1 L547.8 209.1 L548.9 208.1 L549.8 206.5 L550.7 204.5 L551.6 201.9 L552.4 200.0 L553.3 201.9 L554.1 205.0 L555.0 208.1 L555.9 207.3 L556.8 209.6 L557.7 211.1 L558.6 211.9 L559.6 211.6 L560.2 207.3 L560.9 204.5 L561.5 208.8 L562.2 216.5 L562.8 225.7 L563.4 237.1 L564.0 231.8 L564.8 228.4 L565.4 227.9 L566.0 236.4 L566.6 244.8 L567.4 242.5 L568.0 236.4 L568.6 232.1 L569.3 228.7 L570.1 230.5 L570.9 228.4 L571.6 226.9 L572.4 225.7 L573.2 221.1 L573.8 224.9 L574.6 228.4 L575.3 226.4 L576.1 224.9 L576.8 223.8 L577.6 226.4 L578.4 228.7 L579.1 225.7 L579.9 223.4 L580.7 222.3 L581.3 222.6" fill="none" stroke="#000" stroke-width="1.15" stroke-linejoin="round"/>
<text x="108.0" y="170.1" text-anchor="end">0</text>
<text x="108.0" y="139.1" text-anchor="end" textLength="16.0">20</text>
<text x="108.0" y="108.1" text-anchor="end" textLength="16.0">40</text>
<text x="108.0" y="77.1" text-anchor="end" textLength="16.0">60</text>
<text x="108.0" y="46.1" text-anchor="end" textLength="16.0">80</text>
<text x="108.0" y="222.1" text-anchor="end">0</text>
<text x="108.0" y="257.1" text-anchor="end" textLength="19.3">-50</text>
<text x="108.0" y="292.1" text-anchor="end" textLength="27.3">-100</text>
<text x="108.0" y="327.1" text-anchor="end" textLength="27.3">-150</text>
<text x="108.0" y="477.9" text-anchor="end" textLength="11.3">-1</text>
<text x="108.0" y="459.9" text-anchor="end">0</text>
<text x="108.0" y="440.9" text-anchor="end">1</text>
<text x="108.0" y="422.9" text-anchor="end">2</text>
<text x="108.0" y="403.9" text-anchor="end">3</text>
<text x="108.0" y="385.9" text-anchor="end">4</text>
<text x="108.0" y="366.9" text-anchor="end">5</text>
<text x="108.0" y="348.9" text-anchor="end">6</text>
<text x="119.1" y="503.6" text-anchor="middle" textLength="70.6">2005-04-01</text>
<text x="272.8" y="503.6" text-anchor="middle" textLength="70.6">2005-04-11</text>
<text x="426.4" y="503.6" text-anchor="middle" textLength="70.6">2005-04-21</text>
<text x="580.1" y="503.6" text-anchor="middle" textLength="70.6">2005-05-01</text>
<text x="616.4" y="345.5" textLength="16.2">10</text><text x="633.0" y="340.3">3</text>
<text x="616.4" y="377.8" textLength="16.2">10</text><text x="633.0" y="372.6">2</text>
<text x="616.4" y="410.1" textLength="16.2">10</text><text x="633.0" y="404.9">1</text>
<text x="616.4" y="442.4" textLength="16.2">10</text><text x="633.0" y="437.2">0</text>
<text x="616.4" y="474.7" textLength="16.2">10</text><text x="633.0" y="469.5" textLength="11.3">-1</text>
<text transform="translate(47.0 101.8) rotate(-90)" text-anchor="middle" textLength="15.5">Kp</text>
<text transform="translate(59.4 103.9) rotate(-90)" text-anchor="middle" textLength="88.3">(e.g. 3+ = 33,</text>
<text transform="translate(71.0 104.2) rotate(-90)" text-anchor="middle" textLength="49.7">6- = 57,</text>
<text transform="translate(83.0 103.2) rotate(-90)" text-anchor="middle" textLength="77.7">4 = 40, etc.)</text>
<text transform="translate(70.6 255.0) rotate(-90)" text-anchor="middle" textLength="24.2">DST</text>
<text transform="translate(87.0 408.5) rotate(-90)" text-anchor="middle" textLength="70.2">Proton Flux</text>
</svg></body></html>
